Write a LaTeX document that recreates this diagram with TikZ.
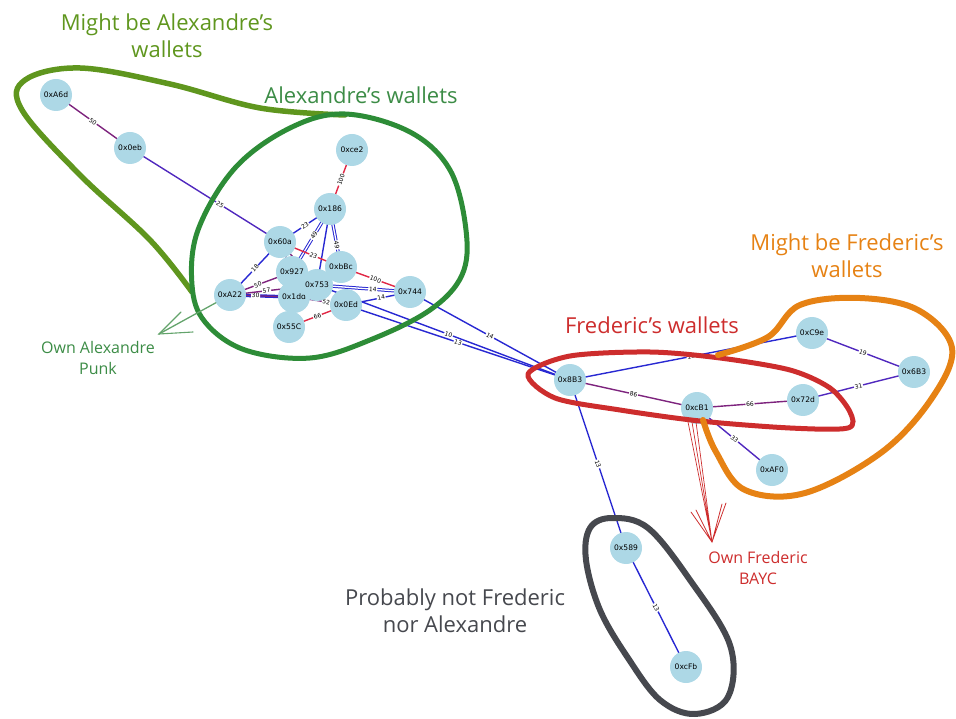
\documentclass[tikz,border=0pt]{standalone}
\usepackage{fontspec}
\setmainfont{Open Sans}
\newfontfamily\nodefont{DejaVu Sans}
\usetikzlibrary{arrows.meta}
\pgfdeclarelayer{edges}
\pgfsetlayers{edges,main}

\definecolor{nodeblue}{RGB}{173,216,230}
\definecolor{eblue}{RGB}{40,40,210}
\definecolor{eviolet}{RGB}{80,40,190}
\definecolor{epurple}{RGB}{125,35,125}
\definecolor{ered}{RGB}{225,40,70}
\definecolor{lgreen}{RGB}{95,150,30}
\definecolor{dgreen}{RGB}{45,140,55}
\definecolor{tgreen}{RGB}{60,140,70}
\definecolor{fred}{RGB}{205,45,45}
\definecolor{forange}{RGB}{230,130,20}
\definecolor{fgray}{RGB}{70,72,78}

\tikzset{
  wallet/.style={circle, fill=nodeblue, minimum size=32pt, inner sep=0pt,
    font=\nodefont\fontsize{7.6}{8}\selectfont},
  eb/.style={draw=eblue, line width=1.4pt},
  ev/.style={draw=eviolet, line width=1.4pt},
  ep/.style={draw=epurple, line width=1.4pt},
  er/.style={draw=ered, line width=1.4pt},
  dbl/.style={double=white, double distance=1.3pt, line width=1pt},
  wt/.style={sloped, fill=white, inner sep=0.7pt,
    font=\nodefont\fontsize{6}{6}\selectfont},
  loopline/.style={line width=5pt, line cap=round, line join=round},
  handtext/.style={align=center, font=\fontsize{22}{27}\selectfont},
  notetext/.style={align=center, font=\fontsize{16}{21}\selectfont},
}

\begin{document}
\begin{tikzpicture}[x=1pt,y=-1pt]
\path[use as bounding box] (0,0) rectangle (956,719);

% ---- wallets ----
\node[wallet] (a6d) at (56,95)  {0xA6d};
\node[wallet] (n0eb) at (130,148) {0x0eb};
\node[wallet] (ce2) at (352,150) {0xce2};
\node[wallet] (b186) at (330,209) {0x186};
\node[wallet] (a60a) at (280,242) {0x60a};
\node[wallet] (a22) at (230,295) {0xA22};
\node[wallet] (c55) at (289,327) {0x55C};
\node[wallet] (d1dd) at (294,297) {0x1dd};
\node[wallet] (e927) at (292,272) {0x927};
\node[wallet] (bbc) at (341,267) {0xbBc};
\node[wallet] (oed) at (346,305) {0x0Ed};
\node[wallet] (f753) at (317,285) {0x753};
\node[wallet] (g744) at (410,292) {0x744};
\node[wallet] (b8b3) at (570,380) {0x8B3};
\node[wallet] (c9e) at (812,333) {0xC9e};
\node[wallet] (b6b3) at (914,372) {0x6B3};
\node[wallet] (d72d) at (803,400) {0x72d};
\node[wallet] (cb1) at (697,408) {0xcB1};
\node[wallet] (af0) at (772,470) {0xAF0};
\node[wallet] (s589) at (626,548) {0x589};
\node[wallet] (cfb) at (686,667) {0xcFb};

% ---- transfers ----
\begin{pgfonlayer}{edges}
\draw[ep] (a6d.center) -- node[wt]{50} (n0eb.center);
\draw[ev] (n0eb.center) -- node[wt, pos=0.6]{25} (a60a.center);
\draw[er] (ce2.center) -- node[wt]{100} (b186.center);
\draw[eb] (b186.center) -- node[wt]{23} (a60a.center);
\draw[eb, dbl] (b186.center) -- node[wt, pos=0.42]{49} (e927.center);
\draw[eb, dbl] (b186.center) -- node[wt, pos=0.62]{49} (bbc.center);
\draw[eb] (b186.center) -- (f753.center);
\draw[er] (a60a.center) -- node[wt, pos=0.55]{23} (bbc.center);
\draw[ep] (a60a.center) -- (f753.center);
\draw[eb] (a60a.center) -- node[wt]{18} (a22.center);
\draw[ep] (a60a.center) -- (e927.center);
\draw[ep] (a22.center) -- node[wt, pos=0.45]{50} (e927.center);
\draw[eb, double=epurple, double distance=1.3pt, line width=1pt] (a22.center) -- node[wt, pos=0.4]{30} (d1dd.center);
\draw[ep] (a22.center) -- node[wt, pos=0.42]{57} (f753.center);
\draw[ep] (e927.center) -- (f753.center);
\draw[ep] (d1dd.center) -- node[wt, pos=0.62]{52} (oed.center);
\draw[ep] (d1dd.center) -- node[wt, pos=0.55]{66} (c55.center);
\draw[er] (c55.center) -- node[wt]{66} (oed.center);
\draw[ep] (e927.center) -- (c55.center);
\draw[er] (bbc.center) -- node[wt]{100} (g744.center);
\draw[eb, dbl] (f753.center) -- node[wt, pos=0.6]{14} (g744.center);
\draw[eb] (oed.center) -- node[wt, pos=0.55]{14} (g744.center);
\draw[eb] (g744.center) -- node[wt]{14} (b8b3.center);
\draw[eb] (f753.center) -- node[wt, pos=0.52]{10} (b8b3.center);
\draw[eb] (oed.center) -- node[wt, pos=0.5]{13} (b8b3.center);
\draw[eb] (b8b3.center) -- node[wt]{19} (c9e.center);
\draw[ep] (b8b3.center) -- node[wt]{86} (cb1.center);
\draw[ep] (cb1.center) -- node[wt]{66} (d72d.center);
\draw[ev] (d72d.center) -- node[wt]{31} (b6b3.center);
\draw[ev] (c9e.center) -- node[wt]{19} (b6b3.center);
\draw[ev] (cb1.center) -- node[wt]{33} (af0.center);
\draw[eb] (b8b3.center) -- node[wt]{13} (s589.center);
\draw[eb] (s589.center) -- node[wt]{13} (cfb.center);
\end{pgfonlayer}

% ---- hand-drawn groupings ----
% might be Alexandre
\draw[loopline, lgreen, line width=5.5pt]
  plot[smooth, tension=0.6] coordinates {(192,292) (150,240) (80,175) (22,110) (25,80) (80,68) (170,84) (260,108) (345,115)};
% Alexandre
\draw[loopline, dgreen]
  plot[smooth cycle, tension=0.6] coordinates {(345,114) (410,132) (450,170) (466,230) (462,275) (430,310) (370,340) (310,358) (245,350) (205,322) (192,285) (198,230) (235,168) (290,128)};
% Frederic
\draw[loopline, fred]
  plot[smooth cycle, tension=0.5] coordinates {(528,374) (570,356) (650,352) (720,358) (790,370) (830,388) (850,412) (848,428) (790,428) (700,421) (620,410) (555,398)};
% might be Frederic
\draw[loopline, forange, line width=6pt]
  plot[smooth, tension=0.6] coordinates {(718,355) (768,337) (800,305) (860,298) (918,310) (952,348) (932,398) (882,452) (805,493) (745,490) (716,452) (703,420)};
% neither of them
\draw[loopline, fgray, line width=6pt]
  plot[smooth cycle, tension=0.6] coordinates {(612,518) (648,528) (690,580) (730,645) (728,697) (695,714) (660,700) (628,658) (600,610) (586,560) (590,528)};

% ---- annotations ----
\node[handtext, text=lgreen] (t1) at (167,36) {Might be Alexandre's\\wallets};
\node[handtext, text=tgreen] (t2) at (361,95) {Alexandre's wallets};
\node[handtext, text=forange] (t3) at (847,256) {Might be Frederic's\\wallets};
\node[handtext, text=fred] (t4) at (652,325) {Frederic's wallets};
\node[handtext, text=fgray] (t5) at (455,611) {Probably not Frederic\\nor Alexandre};
\node[notetext, text=tgreen] (t6) at (98,358) {Own Alexandre\\Punk};
\node[notetext, text=fred] (t7) at (758,568) {Own Frederic\\BAYC};

% arrow to the Punk note
\coordinate (ptip) at (159,334);
\coordinate (pb1) at (181,312);
\coordinate (pb2) at (193,332);
\draw[tgreen!80, line width=1.3pt, line cap=round] (a22) -- (ptip);
\draw[tgreen!80, line width=1.1pt, line cap=round] (pb1) -- (ptip) -- (pb2);

% arrow to the BAYC note
\coordinate (btip) at (712,542);
\coordinate (bs1) at (688,422);
\coordinate (bs2) at (692,422);
\coordinate (bs3) at (696,422);
\coordinate (bb1) at (691,512);
\coordinate (bb2) at (696,510);
\coordinate (bb3) at (722,504);
\coordinate (bb4) at (726,503);
\draw[fred, line width=0.7pt] (bs1) -- (btip) (bs2) -- (btip) (bs3) -- (btip);
\draw[fred, line width=0.8pt, line cap=round] (bb1) -- (btip) -- (bb3) (bb2) -- (btip) -- (bb4);
\end{tikzpicture}
\end{document}
